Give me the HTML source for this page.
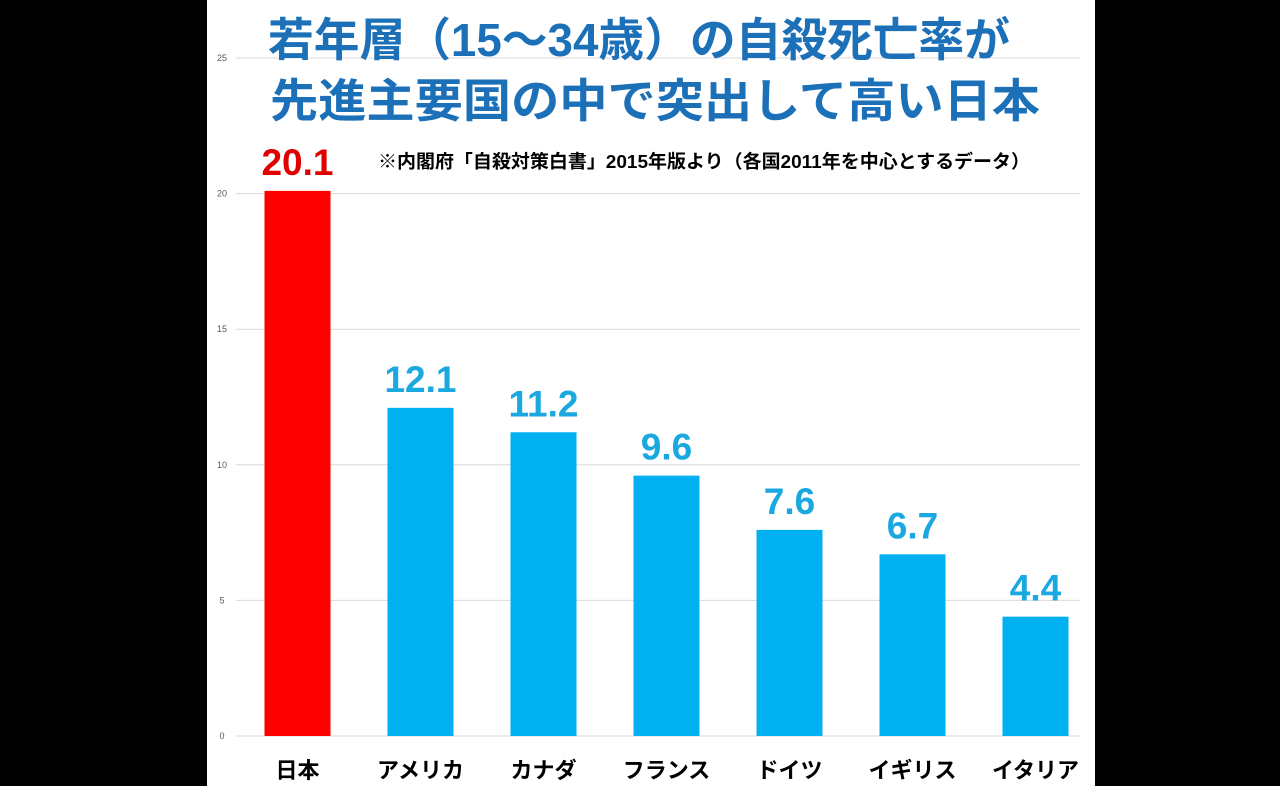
<!DOCTYPE html>
<html><head><meta charset="utf-8">
<style>
html,body{margin:0;padding:0;background:#000;width:1280px;height:786px;overflow:hidden}
svg text{font-family:"Liberation Sans","Noto Sans CJK JP",sans-serif}
</style></head>
<body>
<svg id="chart" width="1280" height="786" xmlns="http://www.w3.org/2000/svg">
<rect x="0" y="0" width="1280" height="786" fill="#000"/>
<rect x="207" y="0" width="888" height="786" fill="#fff"/>
<g id="grid"></g>
<g id="bars"></g>
<text x="268" y="56" font-size="46" font-weight="bold" fill="#1c70b8" textLength="742" lengthAdjust="spacingAndGlyphs">若年層（15～34歳）の自殺死亡率が</text>
<text x="270" y="117" font-size="46" font-weight="bold" fill="#1c70b8" textLength="770" lengthAdjust="spacingAndGlyphs">先進主要国の中で突出して高い日本</text>
<text x="378" y="168" font-size="18.5" font-weight="bold" fill="#000" textLength="652" lengthAdjust="spacingAndGlyphs">※内閣府「自殺対策白書」2015年版より（各国2011年を中心とするデータ）</text>
</svg>
<script>
const categories=["日本","アメリカ","カナダ","フランス","ドイツ","イギリス","イタリア"];
const values=[20.1,12.1,11.2,9.6,7.6,6.7,4.4];
const valueLabels=["20.1","12.1","11.2","9.6","7.6","6.7","4.4"];
const ticks=[0,5,10,15,20,25];
const NS="http://www.w3.org/2000/svg";
const y0=736,y25=58;
function yScale(v){return y0-(y0-y25)*v/25;}
function xCenter(i){return 297.5+123*i;}
const grid=document.getElementById('grid');
const bars=document.getElementById('bars');
function mk(tag,attrs,parent){const e=document.createElementNS(NS,tag);for(const k in attrs)e.setAttribute(k,attrs[k]);parent.appendChild(e);return e;}
ticks.forEach(t=>{
  const y=yScale(t);
  const l=mk('line',{x1:236,x2:1080,y1:y,y2:y,stroke:'#d9d9d9','stroke-width':1},grid);
  
  
  const tx=mk('text',{x:222,y:y+3,'text-anchor':'middle','font-size':9,fill:'#595959'},grid);
  tx.textContent=t;
  
  
});
categories.forEach((c,i)=>{
  const cx=xCenter(i),w=66,y=yScale(values[i]);
  const col=i===0?'#ff0000':'#00b0f0';
  const r=mk('rect',{x:cx-w/2,y:y,width:w,height:y0-y,fill:col},bars);
  
  
  const vl=mk('text',{x:cx,y:y-16,'text-anchor':'middle','font-size':37,'font-weight':'bold',fill:i===0?'#e00000':'#1aa8e0'},bars);
  vl.textContent=valueLabels[i];
  
  
  const cl=mk('text',{x:cx,y:778,'text-anchor':'middle','font-size':22,'font-weight':'bold',fill:'#000'},bars);
  cl.textContent=c;
  
  
});
</script>
</body></html>
